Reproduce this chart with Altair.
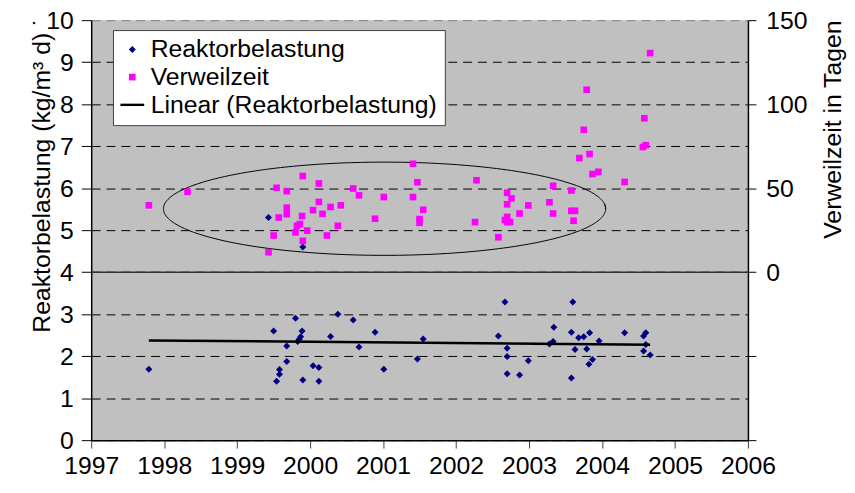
import altair as alt
import pandas as pd

FONT = "Liberation Sans"

# Reaktorbelastung (left axis, kg/m³ d)
ra_year = [1997.79, 1999.43, 1999.50, 1999.54, 1999.58, 1999.58, 1999.68, 1999.68,
           1999.80, 1999.83, 1999.85, 1999.87, 1999.89, 1999.90, 1999.90, 2000.04,
           2000.12, 2000.12, 2000.28, 2000.38, 2000.59, 2000.67, 2000.89, 2001.01,
           2001.47, 2001.55, 2002.58, 2002.67, 2002.70, 2002.70, 2002.70, 2002.87,
           2002.99, 2003.28, 2003.33, 2003.34, 2003.58, 2003.58, 2003.60, 2003.63,
           2003.68, 2003.75, 2003.79, 2003.82, 2003.83, 2003.87, 2003.96, 2004.31,
           2004.57, 2004.60, 2004.60, 2004.57, 2004.66]
ra_value = [1.69, 5.30, 2.60, 1.40, 1.68, 1.57, 2.24, 1.87,
            2.90, 2.35, 2.40, 2.46, 2.60, 1.43, 4.60, 1.77,
            1.73, 1.40, 2.47, 3.00, 2.86, 2.22, 2.57, 1.69,
            1.93, 2.41, 2.48, 3.29, 2.19, 1.99, 1.58, 1.55,
            1.89, 2.29, 2.35, 2.69, 1.48, 2.57, 3.29, 2.16,
            2.44, 2.46, 2.17, 1.81, 2.56, 1.92, 2.36, 2.56,
            2.48, 2.56, 2.28, 2.12, 2.03]

# Verweilzeit (right axis, days)
vz_year = [1997.79, 1998.32, 1999.43, 1999.50, 1999.54, 1999.57, 1999.68, 1999.68,
           1999.68, 1999.80, 1999.82, 1999.86, 1999.89, 1999.90, 1999.90, 1999.96,
           2000.04, 2000.12, 2000.12, 2000.17, 2000.23, 2000.28, 2000.38, 2000.42,
           2000.59, 2000.67, 2000.89, 2001.01, 2001.41, 2001.41, 2001.47, 2001.50,
           2001.50, 2001.55, 2002.26, 2002.28, 2002.58, 2002.67, 2002.70, 2002.70,
           2002.70, 2002.70, 2002.74, 2002.76, 2002.87, 2002.99, 2003.28, 2003.33,
           2003.33, 2003.58, 2003.58, 2003.63, 2003.61, 2003.69, 2003.75, 2003.79,
           2003.83, 2003.87, 2003.95, 2004.31, 2004.56, 2004.60, 2004.58, 2004.66]
vz_days = [39.8, 47.8, 11.9, 21.8, 50.2, 32.5, 48.2, 38.4,
           34.5, 23.7, 27.6, 28.6, 33.4, 18.6, 57.2, 24.7,
           36.9, 52.8, 41.8, 34.7, 21.8, 38.8, 27.6, 39.8,
           49.8, 45.7, 31.8, 44.7, 64.5, 44.7, 53.5, 31.6,
           29.4, 37.1, 29.8, 54.7, 20.8, 31.0, 47.2, 40.4,
           32.9, 29.8, 29.8, 43.9, 34.9, 39.7, 41.6, 51.4,
           34.9, 48.6, 36.5, 36.5, 30.6, 67.9, 84.7, 108.6,
           70.3, 58.4, 59.7, 53.7, 74.5, 75.6, 91.6, 130.4]

SERIES = ["Reaktorbelastung", "Verweilzeit", "Linear (Reaktorbelastung)"]
COLORS = ["#000080", "#FF00FF", "#000000"]
SHAPES = ["diamond", "square", "M-1,-0.1H1V0.1H-1Z"]

X_TICKS = list(range(1997, 2007))
LEFT_TICKS = list(range(0, 11))
RIGHT_TICKS = [-100, -50, 0, 50, 100, 150]

# annotation ellipse (in left-axis / year units)
ELL_CX, ELL_CY, ELL_A, ELL_B = 2001.02, 5.51, 3.03, 1.11

ra_df = pd.DataFrame({"year": ra_year, "value": ra_value, "series": SERIES[0]})
vz_df = pd.DataFrame({"year": vz_year, "days": vz_days, "series": SERIES[1]})

xscale = alt.Scale(domain=[1997, 2006], nice=False, zero=False)
yscale_l = alt.Scale(domain=[0, 10], nice=False)
yscale_r = alt.Scale(domain=[-100, 150], nice=False)

line_label = SERIES[2]
legend = alt.Legend(
    title=None, orient="none", legendX=22, legendY=10,
    fillColor="white", strokeColor="#404040", padding=7,
    labelFontSize=25, labelFont=FONT, labelColor="black", labelLimit=600,
    labelOffset=6, rowPadding=2, symbolOpacity=1, symbolStrokeWidth=0,
    symbolSize={"expr": f"datum.value === '{line_label}' ? 576 : (datum.value === 'Reaktorbelastung' ? 50 : 45)"},
)
color = alt.Color("series:N", scale=alt.Scale(domain=SERIES, range=COLORS), legend=legend)
shape = alt.Shape("series:N", scale=alt.Scale(domain=SERIES, range=SHAPES), legend=legend)

x_axis = alt.Axis(
    values=X_TICKS, format="d", title=None, grid=False,
    labelFontSize=25, labelFont=FONT, labelColor="black", labelPadding=6,
    labelOverlap=False, labelFlush=False,
    tickSize=8, tickColor="#404040", domainColor="black", domainWidth=1.5,
)
left_axis = alt.Axis(
    values=LEFT_TICKS, grid=True, gridDash=[9, 6],
    gridColor=alt.condition("datum.value == 10", alt.value("#808080"), alt.value("#000000")),
    gridWidth=1,
    labelFontSize=25, labelFont=FONT, labelColor="black", labelPadding=8,
    tickSize=10, tickColor="black", domainColor="black", domainWidth=1.5,
    title="Reaktorbelastung (kg/m³ d) ˙", titleFont=FONT, titleFontSize=25,
    titleFontWeight="normal", titleColor="black", titleAngle=270,
    titleX=-42, titleY=156, titleBaseline="alphabetic", titleAlign="center",
)
right_axis = alt.Axis(
    orient="right", values=RIGHT_TICKS, grid=False,
    labelExpr="datum.value < 0 ? '' : datum.label",
    labelFontSize=25, labelFont=FONT, labelColor="black", labelPadding=10,
    tickSize=8, tickColor="black", domainColor="black", domainWidth=1.5,
    title="Verweilzeit in Tagen", titleFont=FONT, titleFontSize=25,
    titleFontWeight="normal", titleColor="black", titleAngle=270,
    titleX=93, titleY=110, titleBaseline="alphabetic", titleAlign="center",
)

X_ENC = dict(scale=xscale, axis=x_axis)

ra_points = alt.Chart(ra_df).mark_point(filled=True, opacity=1, size=50).encode(
    x=alt.X("year:Q", **X_ENC),
    y=alt.Y("value:Q", scale=yscale_l, axis=left_axis),
    color=color, shape=shape,
)

trend = alt.Chart(ra_df).transform_regression("year", "value").mark_line(
    color="black", strokeWidth=2.5
).encode(
    x=alt.X("year:Q", **X_ENC),
    y=alt.Y("value:Q", scale=yscale_l, axis=left_axis),
)

ellipse = alt.Chart(alt.sequence(0, 6.40, 0.02, as_="t")).transform_calculate(
    ex=f"{ELL_CX} + {ELL_A} * cos(datum.t)",
    ey=f"{ELL_CY} + {ELL_B} * sin(datum.t)",
).mark_line(color="black", strokeWidth=1).encode(
    x=alt.X("ex:Q", **X_ENC),
    y=alt.Y("ey:Q", scale=yscale_l, axis=left_axis),
    order="t:Q",
)

vz_points = alt.Chart(vz_df).mark_point(filled=True, opacity=1, size=45).encode(
    x=alt.X("year:Q", **X_ENC),
    y=alt.Y("days:Q", scale=yscale_r, axis=right_axis),
    color=color, shape=shape,
)

zero_rule = alt.Chart(pd.DataFrame({"z": [0]})).mark_rule(
    color="#303030", strokeWidth=1.5
).encode(y=alt.Y("z:Q", scale=yscale_r, axis=right_axis))

left = alt.layer(ra_points, trend, ellipse)
right = alt.layer(vz_points, zero_rule)

chart = alt.layer(left, right).resolve_scale(y="independent").properties(
    width=663, height=424,
    autosize=alt.AutoSizeParams(type="none"),
    padding={"left": 84, "top": 10, "right": 100, "bottom": 43},
).configure_view(stroke=None, fill="#C0C0C0")

chart.save("out.html", embed_options={"renderer": "svg", "actions": False})
